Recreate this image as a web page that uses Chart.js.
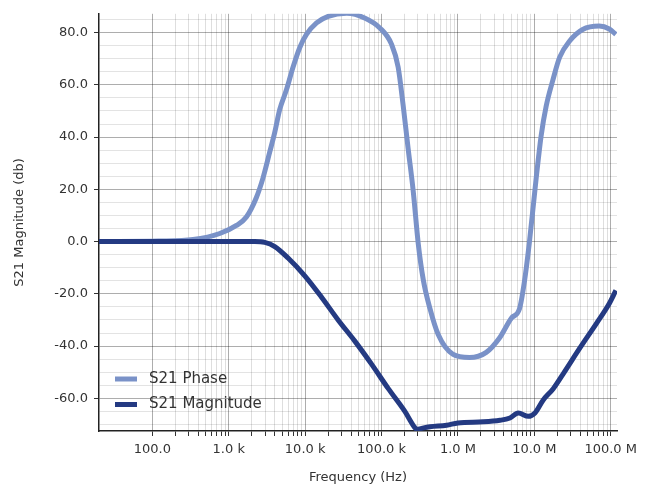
<!DOCTYPE html>
<html>
<head>
<meta charset="utf-8">
<script src="https://cdn.jsdelivr.net/npm/chart.js@4"></script>
<style>
  body { margin: 0; background: #fff; }
</style>
</head>
<body>
<canvas id="bode" width="655" height="491"></canvas>
<script>
// frequency (Hz) and values
const phaseFreq = [20, 120, 340, 762, 1260, 1700, 2300, 2810, 3440, 4000, 4650, 5690, 6950, 8510,
  10400, 14100, 20000, 35000, 60000, 95000, 135000, 165000, 192000, 223000, 260000, 302000, 351000,
  430000, 552000, 855000, 1.42e6, 2.35e6, 3.5e6, 5.0e6, 6.4e6, 7.4e6, 8.6e6, 10.6e6, 12.3e6, 14.3e6,
  17.5e6, 21.5e6, 29e6, 43e6, 71e6, 96e6, 117e6]
const phaseVals = [0, 0.2, 0.8, 3.1, 6.2, 9.4, 16.9, 24.4, 34.3, 41.8, 50.6, 58.1, 66.8, 74.3,
  79.3, 83.7, 86.2, 87.4, 85.6, 81.8, 75.6, 66.8, 52.1, 35.6, 19.3, -0.6, -14.4,
  -25.6, -35.6, -43.1, -44.4, -42.4, -36.9, -29.3, -25.7, -15.6, -0.6, 24.4, 40.6, 51.8,
  61.8, 70.6, 76.8, 81.2, 82.5, 81.4, 79.3]

const magFreq = [20, 1000, 2190, 2960, 4000, 5980, 9890, 16400, 27000, 44700, 74000, 122000, 202000,
  273000, 290000, 334000, 430000, 711000, 1.0e6, 2.14e6, 3.55e6, 4.8e6, 6.17e6, 8.34e6, 10.2e6,
  13.1e6, 17.7e6, 23.9e6, 39.6e6, 65.6e6, 93e6, 117e6]
const magVals = [0, 0, 0, -0.3, -1.9, -6.3, -13.1, -21.3, -30, -38.1, -46.9, -56.2, -65,
  -71.2, -71.9, -71.5, -70.9, -70.3, -69.4, -69, -68.4, -67.5, -65.6, -66.9, -65.6,
  -60.6, -56.3, -50.6, -40.7, -31.2, -24.4, -18.7]

const seriesNames = ['S21 Phase', 'S21 Magnitude']
const xDecades = [100, 1e3, 1e4, 1e5, 1e6, 1e7, 1e8]
const xDecadeLabels = ['100.0', '1.0 k', '10.0 k', '100.0 k', '1.0 M', '10.0 M', '100.0 M']
const yMajorTicks = [-60, -40, -20, 0, 20, 40, 60, 80]

const phaseColor = '#7a92c8'
const magColor = '#243a82'

function toPoints(xs, ys) {
  return xs.map((x, i) => ({x: x, y: ys[i]}))
}

function isDecade(v) {
  const l = Math.log10(v)
  return Math.abs(l - Math.round(l)) < 1e-9
}

const insideLegend = {
  id: 'insideLegend',
  afterDraw(chart) {
    const ctx = chart.ctx
    const area = chart.chartArea
    ctx.save()
    ctx.font = '15px "DejaVu Sans"'
    ctx.textBaseline = 'middle'
    chart.data.datasets.forEach((ds, i) => {
      const y = area.bottom - 52 + i * 25.5
      ctx.strokeStyle = ds.borderColor
      ctx.lineWidth = 5
      ctx.beginPath()
      ctx.moveTo(area.left + 16, y)
      ctx.lineTo(area.left + 38, y)
      ctx.stroke()
      ctx.fillStyle = '#333'
      ctx.fillText(ds.label, area.left + 50, y)
    })
    ctx.restore()
  }
}

Chart.defaults.font.family = '"DejaVu Sans"'
Chart.defaults.color = '#333'

const ctx = document.getElementById('bode').getContext('2d')
const chart = new Chart(ctx, {
  type: 'line',
  data: {
    datasets: [{
      label: seriesNames[0],
      data: toPoints(phaseFreq, phaseVals),
      borderColor: phaseColor,
      borderWidth: 5,
      pointRadius: 0,
      cubicInterpolationMode: 'monotone',
      order: 2
    }, {
      label: seriesNames[1],
      data: toPoints(magFreq, magVals),
      borderColor: magColor,
      borderWidth: 5,
      pointRadius: 0,
      cubicInterpolationMode: 'monotone',
      order: 1
    }]
  },
  options: {
    responsive: false,
    animation: false,
    layout: {padding: {top: 5, right: 38, left: 0, bottom: 0}},
    plugins: {legend: {display: false}, tooltip: {enabled: false}},
    scales: {
      x: {
        type: 'logarithmic',
        min: 20,
        max: 121e6,
        afterBuildTicks: scale => {
          const ticks = []
          for (let d = 100; d <= 1e8; d *= 10) {
            for (let m = 1; m <= 9; m++) {
              const v = d * m
              if (v <= 121e6) ticks.push({value: v})
            }
          }
          scale.ticks = ticks
        },
        afterFit: scale => { scale.height = 60 },
        ticks: {
          autoSkip: false,
          maxRotation: 0,
          padding: 6,
          font: {size: 13},
          callback: v => {
            const i = xDecades.findIndex(d => Math.abs(d - v) / d < 1e-6)
            return i >= 0 ? xDecadeLabels[i] : ''
          }
        },
        grid: {
          tickLength: 5,
          color: c => isDecade(c.tick.value) ? 'rgba(0,0,0,0.32)' : 'rgba(0,0,0,0.13)',
          tickColor: '#333'
        },
        border: {color: '#222', width: 1.5},
        title: {display: true, text: 'Frequency (Hz)', font: {size: 13}, padding: {top: 0, bottom: 6}}
      },
      y: {
        min: -72.5,
        max: 87.2,
        afterBuildTicks: scale => {
          const ticks = []
          for (let v = -70; v <= 85; v += 5) ticks.push({value: v})
          scale.ticks = ticks
        },
        afterFit: scale => { scale.width = 99 },
        ticks: {
          autoSkip: false,
          padding: 6,
          font: {size: 13},
          callback: v => yMajorTicks.includes(v) ? v.toFixed(1) : ''
        },
        grid: {
          tickLength: 5,
          color: c => yMajorTicks.includes(c.tick.value) ? 'rgba(0,0,0,0.32)' : 'rgba(0,0,0,0.11)',
          tickColor: c => yMajorTicks.includes(c.tick.value) ? '#333' : 'rgba(0,0,0,0)'
        },
        border: {color: '#222', width: 1.5},
        title: {display: true, text: 'S21 Magnitude (db)', font: {size: 13}, padding: {top: 12, bottom: 0}}
      }
    }
  },
  plugins: [insideLegend]
})
</script>
</body>
</html>
